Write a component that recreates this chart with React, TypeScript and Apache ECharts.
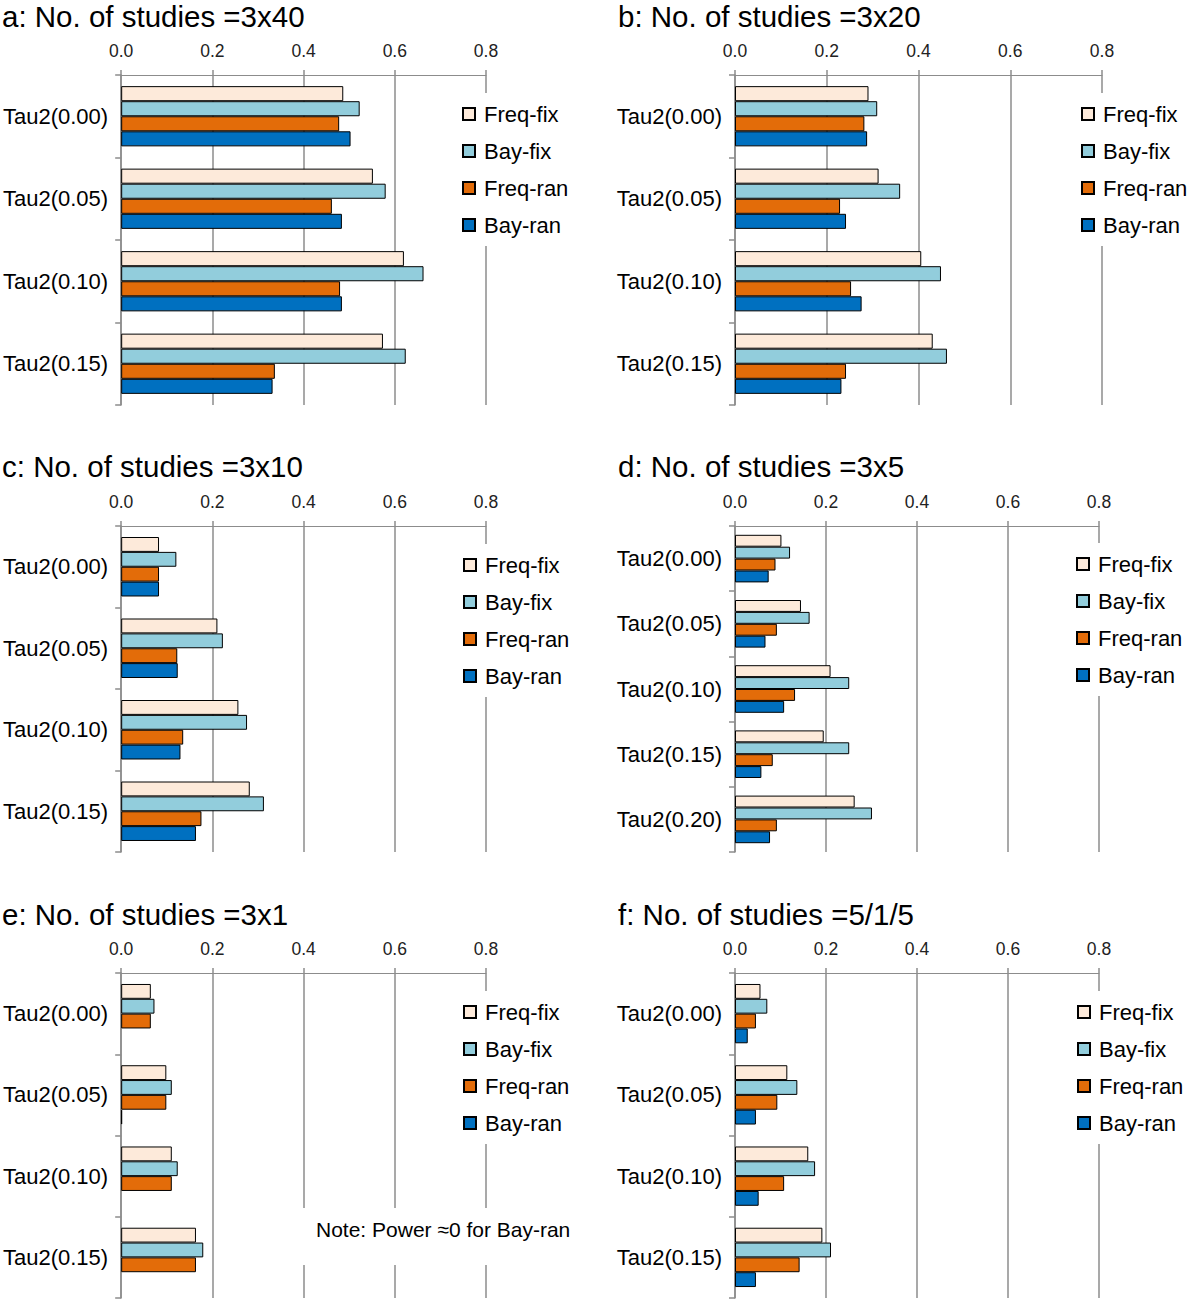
import React, { useEffect, useRef } from "react";
import * as echarts from "echarts";

const categories4 = ["Tau2(0.00)", "Tau2(0.05)", "Tau2(0.10)", "Tau2(0.15)"];
const categories5 = ["Tau2(0.00)", "Tau2(0.05)", "Tau2(0.10)", "Tau2(0.15)", "Tau2(0.20)"];
const seriesNames = ["Freq-fix", "Bay-fix", "Freq-ran", "Bay-ran"];
const seriesColors = ["#FDEADA", "#92CDDC", "#E36C09", "#0070C0"];
const xTicks = [0, 0.2, 0.4, 0.6, 0.8];

// a: 3x40
const freqFixA = [0.487, 0.552, 0.62, 0.574];
const bayFixA = [0.523, 0.58, 0.663, 0.624];
const freqRanA = [0.478, 0.462, 0.48, 0.337];
const bayRanA = [0.503, 0.484, 0.484, 0.332];
// b: 3x20
const freqFixB = [0.291, 0.313, 0.406, 0.431];
const bayFixB = [0.31, 0.36, 0.449, 0.462];
const freqRanB = [0.282, 0.229, 0.253, 0.242];
const bayRanB = [0.288, 0.242, 0.276, 0.232];
// c: 3x10
const freqFixC = [0.083, 0.211, 0.257, 0.282];
const bayFixC = [0.121, 0.223, 0.276, 0.313];
const freqRanC = [0.083, 0.123, 0.136, 0.176];
const bayRanC = [0.083, 0.124, 0.13, 0.164];
// d: 3x5
const freqFixD = [0.102, 0.145, 0.21, 0.195, 0.263];
const bayFixD = [0.121, 0.164, 0.251, 0.251, 0.301];
const freqRanD = [0.089, 0.092, 0.132, 0.083, 0.092];
const bayRanD = [0.074, 0.067, 0.108, 0.058, 0.077];
// e: 3x1 (Bay-ran power ~0; only a hairline visible at 0.05)
const freqFixE = [0.065, 0.099, 0.111, 0.164];
const bayFixE = [0.073, 0.111, 0.124, 0.18];
const freqRanE = [0.065, 0.099, 0.111, 0.164];
const bayRanE = [null, 0.002, null, null];
// f: 5/1/5
const freqFixF = [0.056, 0.115, 0.161, 0.192];
const bayFixF = [0.071, 0.137, 0.176, 0.211];
const freqRanF = [0.046, 0.093, 0.108, 0.142];
const bayRanF = [0.028, 0.046, 0.052, 0.046];

const panelTitles = [
  "a: No. of studies =3x40",
  "b: No. of studies =3x20",
  "c: No. of studies =3x10",
  "d: No. of studies =3x5",
  "e: No. of studies =3x1",
  "f: No. of studies =5/1/5",
];
const noteText = "Note: Power \u22480 for Bay-ran";

const FONT = "'Liberation Sans', Arial, Helvetica, sans-serif";
const GRAY = "#8c8c8c";

export default function App() {
  const ref = useRef<HTMLDivElement>(null);

  useEffect(() => {
    if (!ref.current) return;
    const chart = echarts.init(ref.current, null, { renderer: "svg" });

    const panels = [
      { cats: categories4, data: [freqFixA, bayFixA, freqRanA, bayRanA] },
      { cats: categories4, data: [freqFixB, bayFixB, freqRanB, bayRanB] },
      { cats: categories4, data: [freqFixC, bayFixC, freqRanC, bayRanC] },
      { cats: categories5, data: [freqFixD, bayFixD, freqRanD, bayRanD] },
      { cats: categories4, data: [freqFixE, bayFixE, freqRanE, bayRanE] },
      { cats: categories4, data: [freqFixF, bayFixF, freqRanF, bayRanF] },
    ];

    const grids = [
      { left: 120, top: 75, width: 366, height: 330 },
      { left: 735, top: 75, width: 367, height: 330 },
      { left: 121, top: 526, width: 365, height: 326 },
      { left: 735, top: 526, width: 364, height: 326 },
      { left: 121, top: 973, width: 365, height: 325 },
      { left: 735, top: 973, width: 364, height: 325 },
    ];
    const titlePos = [
      { left: 2, top: 1 },
      { left: 618, top: 1 },
      { left: 2, top: 451 },
      { left: 618, top: 451 },
      { left: 2, top: 899 },
      { left: 618, top: 899 },
    ];
    const legendPos = [
      { left: 456, top: 93 },
      { left: 1075, top: 93 },
      { left: 457, top: 544 },
      { left: 1070, top: 543 },
      { left: 457, top: 991 },
      { left: 1071, top: 991 },
    ];

    const option: any = {
      animation: false,
      backgroundColor: "#fff",
      textStyle: { fontFamily: FONT },
      title: panelTitles.map((t, i) => ({
        text: t,
        left: titlePos[i].left,
        top: titlePos[i].top,
        padding: 0,
        textStyle: { fontSize: 29.5, fontWeight: "normal", color: "#000", fontFamily: FONT },
      })),
      grid: grids.map((g) => ({ ...g, containLabel: false })),
      xAxis: grids.map((_, i) => ({
        type: "value",
        gridIndex: i,
        position: "top",
        min: xTicks[0],
        max: xTicks[xTicks.length - 1],
        interval: 0.2,
        axisLine: { show: true, lineStyle: { color: GRAY, width: 1 } },
        axisTick: { show: true, length: 5, lineStyle: { color: GRAY, width: 1.5 } },
        axisLabel: {
          fontSize: 17.5,
          color: "#222",
          margin: 15,
          fontFamily: FONT,
          formatter: (v: number) => v.toFixed(1),
        },
        splitLine: { show: true, lineStyle: { color: GRAY, width: 1.5 } },
      })),
      yAxis: panels.map((p, i) => ({
        type: "category",
        gridIndex: i,
        data: p.cats,
        inverse: true,
        axisLine: { show: true, lineStyle: { color: GRAY, width: 1.5 } },
        axisTick: { show: true, length: 6, lineStyle: { color: GRAY, width: 1.5 } },
        axisLabel: { fontSize: 22, color: "#000", margin: 13, fontFamily: FONT },
        splitLine: { show: false },
      })),
      legend: legendPos.map((lp) => ({
        orient: "vertical",
        left: lp.left,
        top: lp.top,
        itemWidth: 12,
        itemHeight: 12,
        itemGap: 15,
        icon: "rect",
        selectedMode: false,
        backgroundColor: "#fff",
        padding: [10, 6, 10, 6],
        data: seriesNames,
        textStyle: { fontSize: 22, lineHeight: 22, color: "#000", fontFamily: FONT, padding: [0, 0, 0, 4] },
        z: 10,
      })),
      series: panels.flatMap((p, i) =>
        seriesNames.map((name, k) => ({
          name,
          type: "bar",
          xAxisIndex: i,
          yAxisIndex: i,
          data: p.data[k],
          barGap: "0%",
          barCategoryGap: "27%",
          itemStyle: { color: seriesColors[k], borderColor: "#000", borderWidth: 1 },
          emphasis: { disabled: true },
        }))
      ),
      graphic: [
        {
          type: "text",
          left: 300,
          top: 1208,
          z: 100,
          style: {
            text: noteText,
            fontSize: 21,
            fontFamily: FONT,
            fill: "#000",
            backgroundColor: "#fff",
            padding: [11, 8, 25, 16],
          },
        },
      ],
    };

    chart.setOption(option);
    return () => chart.dispose();
  }, []);

  return (
    <div
      ref={ref}
      style={{ position: "absolute", left: 0, top: 0, width: 1200, height: 1301 }}
    />
  );
}
